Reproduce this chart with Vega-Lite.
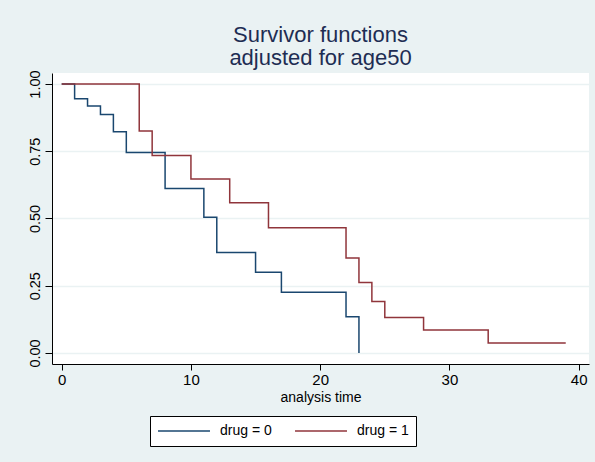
{
  "$schema": "https://vega.github.io/schema/vega-lite/v6.json",
  "autosize": {"type": "none"},
  "width": 537,
  "height": 291,
  "padding": {"left": 52, "top": 73, "right": 6, "bottom": 98},
  "background": "#eaf2f3",
  "title": {
    "text": ["Survivor functions", "adjusted for age50"],
    "font": "Liberation Sans",
    "fontSize": 22,
    "fontWeight": "normal",
    "color": "#1e2d53",
    "anchor": "middle",
    "baseline": "bottom",
    "lineHeight": 23,
    "offset": -22,
    "frame": "group"
  },
  "config": {
    "view": {"fill": "white", "stroke": null},
    "font": "Liberation Sans"
  },
  "data": {
    "values": [
      {"t": 0, "s": 1, "group": "drug = 0"},
      {"t": 1, "s": 0.945, "group": "drug = 0"},
      {"t": 2, "s": 0.918, "group": "drug = 0"},
      {"t": 3, "s": 0.887, "group": "drug = 0"},
      {"t": 4, "s": 0.823, "group": "drug = 0"},
      {"t": 5, "s": 0.745, "group": "drug = 0"},
      {"t": 8, "s": 0.612, "group": "drug = 0"},
      {"t": 11, "s": 0.505, "group": "drug = 0"},
      {"t": 12, "s": 0.374, "group": "drug = 0"},
      {"t": 15, "s": 0.300, "group": "drug = 0"},
      {"t": 17, "s": 0.226, "group": "drug = 0"},
      {"t": 22, "s": 0.135, "group": "drug = 0"},
      {"t": 23, "s": 0, "group": "drug = 0"},
      {"t": 0, "s": 1, "group": "drug = 1"},
      {"t": 6, "s": 0.825, "group": "drug = 1"},
      {"t": 7, "s": 0.734, "group": "drug = 1"},
      {"t": 10, "s": 0.647, "group": "drug = 1"},
      {"t": 13, "s": 0.559, "group": "drug = 1"},
      {"t": 16, "s": 0.466, "group": "drug = 1"},
      {"t": 22, "s": 0.353, "group": "drug = 1"},
      {"t": 23, "s": 0.262, "group": "drug = 1"},
      {"t": 24, "s": 0.191, "group": "drug = 1"},
      {"t": 25, "s": 0.132, "group": "drug = 1"},
      {"t": 28, "s": 0.085, "group": "drug = 1"},
      {"t": 33, "s": 0.037, "group": "drug = 1"},
      {"t": 39, "s": 0.037, "group": "drug = 1"}
    ]
  },
  "mark": {"type": "line", "interpolate": "step-after", "strokeWidth": 1.5},
  "encoding": {
    "x": {
      "field": "t",
      "type": "quantitative",
      "scale": {"domain": [-0.75, 40.8], "nice": false, "zero": false},
      "axis": {
        "title": "analysis time",
        "titleFont": "Liberation Sans",
        "titleFontSize": 14,
        "titleFontWeight": "normal",
        "titleColor": "black",
        "titlePadding": 3,
        "values": [0, 10, 20, 30, 40],
        "labelFontSize": 15,
        "labelColor": "black",
        "labelPadding": 2,
        "tickSize": 6,
        "tickColor": "black",
        "domainColor": "black",
        "grid": false
      }
    },
    "y": {
      "field": "s",
      "type": "quantitative",
      "scale": {"domain": [-0.041, 1.041], "nice": false, "zero": false},
      "axis": {
        "title": null,
        "values": [0, 0.25, 0.5, 0.75, 1],
        "format": ".2f",
        "labelAngle": 270,
        "labelAlign": "center",
        "labelBaseline": "bottom",
        "labelFontSize": 14.5,
        "labelColor": "black",
        "labelPadding": 3,
        "tickSize": 7,
        "tickColor": "black",
        "domainColor": "black",
        "grid": true,
        "gridColor": "#eaf2f3",
        "gridWidth": 1.5
      }
    },
    "color": {
      "field": "group",
      "type": "nominal",
      "scale": {"domain": ["drug = 0", "drug = 1"], "range": ["#1a476f", "#90353b"]},
      "legend": {
        "title": null,
        "orient": "none",
        "legendX": 98,
        "legendY": 343,
        "direction": "horizontal",
        "columns": 2,
        "symbolType": "stroke",
        "symbolSize": 2700,
        "symbolStrokeWidth": 1.5,
        "clipHeight": 16,
        "labelFontSize": 14,
        "labelColor": "black",
        "labelOffset": 9,
        "columnPadding": 22,
        "padding": 7,
        "fillColor": "white",
        "strokeColor": "black",
        "cornerRadius": 0
      }
    }
  }
}
